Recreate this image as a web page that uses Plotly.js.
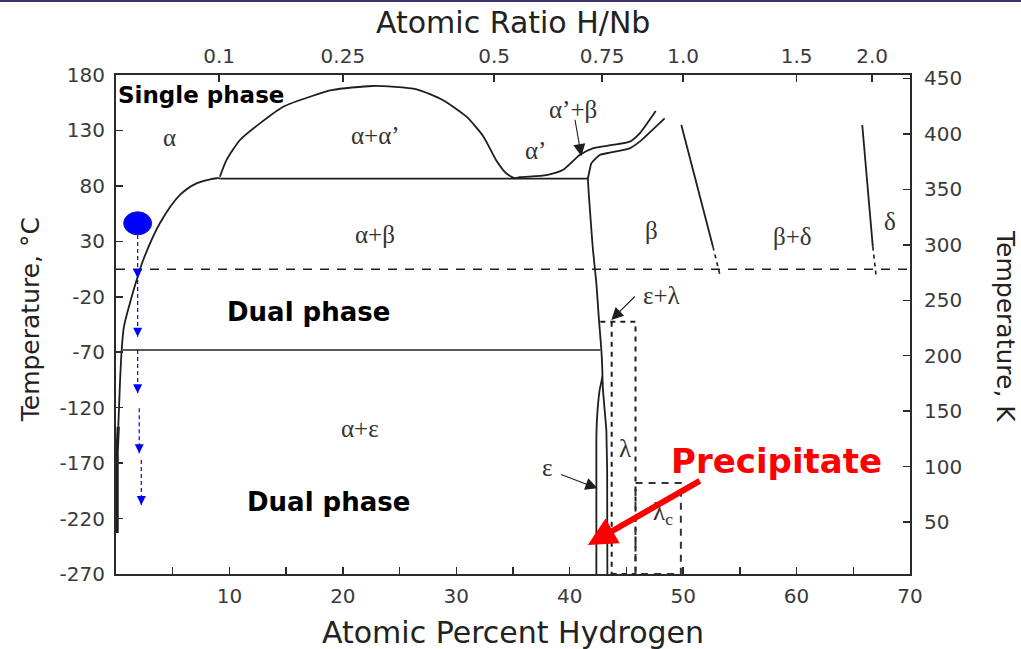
<!DOCTYPE html>
<html>
<head>
<meta charset="utf-8">
<script src="https://cdn.plot.ly/plotly-3.0.1.min.js"></script>
<style>
  html, body { margin: 0; padding: 0; background: #fff; }
  #chart { width: 1021px; height: 649px; }
  #rule { position: absolute; left: 0; top: 0; width: 1021px; height: 2px; background: #3b3470; }
</style>
</head>
<body>
<div id="chart"></div>
<div id="rule"></div>
<script>
// Nb–H phase diagram: temperature (°C / K) against hydrogen content (at.% / H:Nb ratio)

// ---- axis ticks ----
const pctTicks = [10, 20, 30, 40, 50, 60, 70];
const pctMinorStep = 5;
const ratioTicks = [0.1, 0.25, 0.5, 0.75, 1.0, 1.5, 2.0];
const ratioTickText = ['0.1', '0.25', '0.5', '0.75', '1.0', '1.5', '2.0'];
const celsiusTicks = [-270, -220, -170, -120, -70, -20, 30, 80, 130, 180];
const kelvinTicks = [50, 100, 150, 200, 250, 300, 350, 400, 450];
const celsiusRange = [-270, 180];
const pctRange = [0, 70];
const KELVIN_OFFSET = 273.15;

// ---- phase boundaries (x: at.% H, T: °C) ----
const alphaSolvusX = [0.2, 0.35, 0.5, 0.7, 1.23, 1.82, 2.4, 3.88, 5.64, 7.1, 8.87, 9.2];
const alphaSolvusT = [-137, -97.7, -68, -47, -25.6, -4.9, 13.2, 46.5, 71.8, 82.3, 86.9, 86.7];

const alphaSolvusLowX = [0.1, 0.1, 0.2];
const alphaSolvusLowT = [-233, -160, -137];

// alpha + alpha' miscibility gap, continuing as the alpha' / alpha'+beta boundary
const domeX = [9.16, 9.75, 10.93, 12.69, 14.74, 17.1, 19.1, 22.6, 26.5, 28.8, 30.9, 32.4, 33.5, 34.4, 35.15,
               35.59, 37.95, 39.38, 40.88, 42.03, 43.79, 45.29, 46.17, 47.58];
const domeT = [88.3, 103.4, 121.4, 136.4, 151.4, 160.4, 166.5, 170.1, 167.1, 157.5, 142.4, 124.4, 103.4, 91.4, 86.9,
               87.8, 89.8, 94.3, 107.9, 113.9, 116.9, 119.9, 127.4, 147.5];

// beta phase boundary: alpha'+beta / beta, then alpha+beta / beta, then the epsilon low side
const betaBoundX = [48.37, 46.17, 45.29, 43.52, 42.64, 41.91, 41.7, 41.61, 42.05, 42.35, 42.58, 42.79, 42.88,
                    42.64, 42.4, 42.35, 42.35];
const betaBoundT = [140.9, 119.9, 113.9, 110.0, 107.9, 100.4, 91.4, 86.9, 22.2, -7.8, -40.9, -68.0, -92.0,
                    -104, -131, -149, -270];

const epsHighX = [42.88, 42.93, 43.23, 43.3, 43.32];
const epsHighT = [-92.0, -104, -140, -176, -270];

const eutectoidX = [9.2, 41.61];
const eutectoidT = [86.6, 86.6];

const lowEutectoidX = [0.5, 42.79];
const lowEutectoidT = [-68, -68];

const roomLineX = [0, 70];
const roomLineT = [4.8, 4.8];

const betaDeltaX = [49.84, 52.63];
const betaDeltaT = [134.9, 25.2];
const betaDeltaDashX = [52.63, 53.28];
const betaDeltaDashT = [25.2, -1.9];

const deltaX = [65.79, 66.72];
const deltaT = [134.9, 25.2];
const deltaDashX = [66.72, 67.02];
const deltaDashT = [25.2, -1.9];

const lambdaBoxX = [42.7, 45.8, 45.8, null, 43.7, 43.7, null, 43.7, 45.8];
const lambdaBoxT = [-42.5, -42.5, -270, null, -42.5, -270, null, -270, -270];

const lambdaCBoxX = [45.8, 45.8, 49.8, 49.8, 45.8];
const lambdaCBoxT = [-270, -188, -188, -270, -270];

// cooling path of a dilute alloy
const startPoint = { x: 1.91, T: 46.3 };
const coolX = [1.91, 1.91, 1.91, 2.05, 2.23];
const coolStartT = [35.7, -4.9, -68, -120.5, -167.2];
const coolEndT = [-3.3, -56, -107, -161.1, -207.7];

// ---- labels ----
const phaseLabels = [
  { text: 'α', x: 4.76, T: 124 },
  { text: 'α+α’', x: 22.9, T: 125.4 },
  { text: 'α’+β', x: 40.3, T: 149.3 },
  { text: 'α’', x: 36.96, T: 111.5 },
  { text: 'α+β', x: 22.8, T: 36.6 },
  { text: 'β', x: 47.2, T: 40.2 },
  { text: 'β+δ', x: 59.6, T: 34.8 },
  { text: 'δ', x: 68.2, T: 47.9 },
  { text: 'ε+λ', x: 48.1, T: -18.4 },
  { text: 'α+ε', x: 21.5, T: -139.2 },
  { text: 'λ', x: 44.9, T: -156.8 },
  { text: 'ε', x: 38.06, T: -174.4 },
  { text: 'λ<sub>c</sub>', x: 48.2, T: -215 }
];

const boldLabels = [
  { text: 'Single phase', x: 7.53, T: 162, size: 23, color: '#000' },
  { text: 'Dual phase', x: 17.0, T: -33.7, size: 26, color: '#000' },
  { text: 'Dual phase', x: 18.7, T: -205, size: 26, color: '#000' },
  { text: 'Precipitate', x: 58.2, T: -168, size: 34, color: '#ff0000' }
];

// pointer arrows: head (x, T) and tail (ax, aT)
const pointers = [
  { x: 41.03, T: 106.8, ax: 40.44, aT: 141 },
  { x: 43.67, T: -40.9, ax: 45.87, aT: -18.4 },
  { x: 42.45, T: -192.7, ax: 39.1, aT: -179.8 }
];
const precipitateArrow = { x: 41.6, T: -243.8, ax: 51.6, aT: -185.2 };

// ---- traces ----
const ink = '#1e1e1e';
function line(x, y, opts) {
  return Object.assign({
    type: 'scatter', mode: 'lines', x: x, y: y, hoverinfo: 'skip', showlegend: false,
    line: { color: ink, width: 1.8 }
  }, opts || {});
}

const coolSegX = [], coolSegT = [];
coolX.forEach((x, i) => {
  coolSegX.push(x, x, null);
  coolSegT.push(coolStartT[i], coolEndT[i], null);
});

const traces = [
  line(alphaSolvusX, alphaSolvusT, { line: { color: ink, width: 1.8, shape: 'spline', smoothing: 0.8 } }),
  line(alphaSolvusLowX, alphaSolvusLowT, { line: { color: ink, width: 3.2 } }),
  line(domeX, domeT, { line: { color: ink, width: 1.8, shape: 'spline', smoothing: 0.6 } }),
  line(betaBoundX, betaBoundT, { line: { color: ink, width: 1.8, shape: 'spline', smoothing: 0.4 } }),
  line(epsHighX, epsHighT),
  line(eutectoidX, eutectoidT),
  line(lowEutectoidX, lowEutectoidT, { line: { color: '#5a5a5a', width: 2 } }),
  line(roomLineX, roomLineT, { line: { color: ink, width: 1.5, dash: '9px,8px' } }),
  line(betaDeltaX, betaDeltaT),
  line(betaDeltaDashX, betaDeltaDashT, { line: { color: ink, width: 1.6, dash: '4px,4px' } }),
  line(deltaX, deltaT),
  line(deltaDashX, deltaDashT, { line: { color: ink, width: 1.6, dash: '4px,4px' } }),
  line(lambdaBoxX, lambdaBoxT, { line: { color: ink, width: 2, dash: '5px,5px' } }),
  line(lambdaCBoxX, lambdaCBoxT, { line: { color: '#333', width: 2, dash: '7px,6px' } }),
  line(coolSegX, coolSegT, { line: { color: '#0000ff', width: 1.2, dash: '4px,3px' } }),
  // carries the ratio (top) and kelvin (right) axes
  { type: 'scatter', mode: 'markers', x: [35], y: [200], xaxis: 'x2', yaxis: 'y2',
    marker: { opacity: 0 }, hoverinfo: 'skip', showlegend: false }
];

// ---- annotations ----
const annotations = [];
const labelFont = { family: 'Liberation Serif', size: 25, color: '#333' };
phaseLabels.forEach(l => annotations.push({
  x: l.x, y: l.T, xref: 'x', yref: 'y', text: l.text, showarrow: false, font: labelFont
}));
boldLabels.forEach(l => annotations.push({
  x: l.x, y: l.T, xref: 'x', yref: 'y', text: '<b>' + l.text + '</b>', showarrow: false,
  font: { family: 'DejaVu Sans', size: l.size, color: l.color }
}));
pointers.forEach(p => annotations.push({
  x: p.x, y: p.T, ax: p.ax, ay: p.aT, xref: 'x', yref: 'y', axref: 'x', ayref: 'y',
  text: '', showarrow: true, arrowhead: 2, arrowsize: 2.2, arrowwidth: 1.1, arrowcolor: ink, standoff: 0
}));
annotations.push({
  x: precipitateArrow.x, y: precipitateArrow.T, ax: precipitateArrow.ax, ay: precipitateArrow.aT,
  xref: 'x', yref: 'y', axref: 'x', ayref: 'y', text: '', showarrow: true,
  arrowhead: 2, arrowsize: 0.95, arrowwidth: 6, arrowcolor: '#ff0000', standoff: 0
});
coolX.forEach((x, i) => annotations.push({
  x: x, y: coolEndT[i], xref: 'x', yref: 'y', ax: 0, ay: -8, text: '', showarrow: true,
  arrowhead: 2, arrowsize: 1.5, arrowwidth: 1.2, arrowcolor: '#0000ff', standoff: 0
}));

const titleFont = { family: 'DejaVu Sans', size: 30, color: '#222' };
annotations.push(
  { xref: 'paper', yref: 'paper', x: 0.5, y: 1.106, text: 'Atomic Ratio H/Nb', showarrow: false,
    font: titleFont, xanchor: 'center', yanchor: 'middle' },
  { xref: 'paper', yref: 'paper', x: 0.5, y: -0.118, text: 'Atomic Percent Hydrogen', showarrow: false,
    font: titleFont, xanchor: 'center', yanchor: 'middle' },
  { xref: 'paper', yref: 'paper', x: -0.108, y: 0.509, text: 'Temperature, °C', showarrow: false,
    font: Object.assign({}, titleFont, { size: 25 }), textangle: -90, xanchor: 'center', yanchor: 'middle' },
  { xref: 'paper', yref: 'paper', x: 1.1196, y: 0.497, text: 'Temperature, K', showarrow: false,
    font: Object.assign({}, titleFont, { size: 25 }), textangle: 90, xanchor: 'center', yanchor: 'middle' }
);

// ---- axes ----
const tickFont = { family: 'DejaVu Sans', size: 20, color: '#3a3a3a' };
const axisCommon = {
  showline: true, linecolor: '#2a2a2a', linewidth: 2, ticks: 'inside', ticklen: 7, tickwidth: 1.5,
  tickcolor: '#2a2a2a', showgrid: false, zeroline: false, tickfont: tickFont, fixedrange: true
};

const layout = {
  width: 1021, height: 649,
  margin: { l: 116, r: 111, t: 75, b: 75, pad: 0 },
  paper_bgcolor: '#ffffff', plot_bgcolor: '#ffffff',
  showlegend: false,
  xaxis: Object.assign({}, axisCommon, {
    range: pctRange, tickmode: 'array', tickvals: pctTicks, ticktext: pctTicks.map(String), side: 'bottom',
    ticklabelstandoff: 3,
    minor: { ticks: 'inside', ticklen: 7, tickwidth: 1.5, tickcolor: '#2a2a2a', tick0: 0, dtick: pctMinorStep,
             showgrid: false }
  }),
  xaxis2: Object.assign({}, axisCommon, {
    range: pctRange, overlaying: 'x', side: 'top', tickmode: 'array',
    tickvals: ratioTicks.map(r => 100 * r / (1 + r)), ticktext: ratioTickText, ticklabelstandoff: 2
  }),
  yaxis: Object.assign({}, axisCommon, {
    range: celsiusRange, tickmode: 'array', tickvals: celsiusTicks,
    ticktext: celsiusTicks.map(String), ticklabelstandoff: 5
  }),
  yaxis2: Object.assign({}, axisCommon, {
    range: celsiusRange.map(c => c + KELVIN_OFFSET), overlaying: 'y', side: 'right', tickmode: 'array',
    tickvals: kelvinTicks, ticktext: kelvinTicks.map(String), ticklabelstandoff: 8
  }),
  shapes: [{
    type: 'circle', xref: 'x', yref: 'y', xsizemode: 'pixel', ysizemode: 'pixel',
    xanchor: startPoint.x, yanchor: startPoint.T, x0: -14, x1: 14, y0: -11.5, y1: 11.5,
    fillcolor: '#0000ff', line: { color: '#1a1ab0', width: 1 }
  }],
  annotations: annotations
};

Plotly.newPlot('chart', traces, layout, { staticPlot: true, displayModeBar: false });
</script>
</body>
</html>
